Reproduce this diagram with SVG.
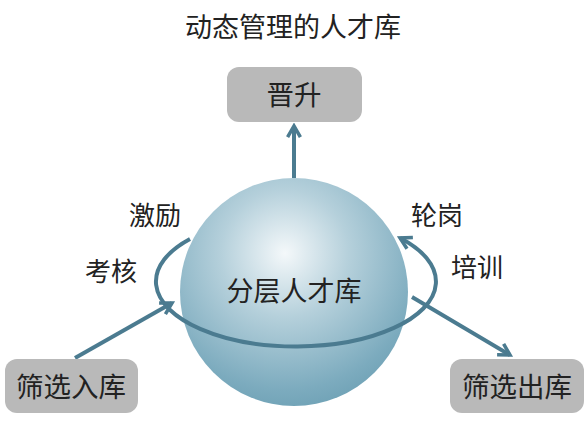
<svg xmlns="http://www.w3.org/2000/svg" width="587" height="424" viewBox="0 0 587 424">
<defs>
<radialGradient id="sph" cx="0.46" cy="0.33" r="0.8" fx="0.46" fy="0.33">
<stop offset="0" stop-color="#f4f8fa"/>
<stop offset="0.35" stop-color="#b5d0db"/>
<stop offset="0.75" stop-color="#7cabbe"/>
<stop offset="1" stop-color="#6298ad"/>
</radialGradient>
<marker id="ah" viewBox="0 0 10 10" refX="8" refY="5" markerWidth="4" markerHeight="4" orient="auto" markerUnits="strokeWidth">
<path d="M1,1 L8,5 L1,9" fill="none" stroke="#4b7b90" stroke-width="2.2" stroke-linecap="butt" stroke-linejoin="miter"/>
</marker>
<style>
.t{font-family:"Noto Sans CJK SC","Noto Sans",sans-serif;fill:#222;text-anchor:middle}
.box{fill:#b9b9b9}
.ln{fill:none;stroke:#4b7b90;stroke-width:4}
</style>
</defs>
<rect width="587" height="424" fill="#fff"/>
<text class="t" x="293" y="37" font-size="27">动态管理的人才库</text>
<g id="sphere">
<circle cx="294" cy="292" r="114" fill="url(#sph)"/>
<text class="t" x="294" y="301" font-size="27">分层人才库</text>
</g>
<g id="connectors">
<path class="ln" d="M190,239 A140,65 0 1 0 400,238" marker-end="url(#ah)"/>
<line class="ln" x1="294" y1="178" x2="294" y2="126" marker-end="url(#ah)"/>
<line class="ln" x1="75" y1="358" x2="172" y2="303" marker-end="url(#ah)"/>
<line class="ln" x1="412" y1="297" x2="510" y2="355" marker-end="url(#ah)"/>
</g>
<g id="promote">
<rect class="box" x="227" y="67" width="135" height="55" rx="12"/>
<text class="t" x="294" y="105" font-size="27.5">晋升</text>
</g>
<g id="in">
<rect class="box" x="5" y="359" width="133" height="54" rx="12"/>
<text class="t" x="71" y="397" font-size="27.5">筛选入库</text>
</g>
<g id="out">
<rect class="box" x="450" y="359" width="134" height="54" rx="12"/>
<text class="t" x="517" y="397" font-size="27.5">筛选出库</text>
</g>
<g id="labels">
<text class="t" x="155" y="225" font-size="26">激励</text>
<text class="t" x="111" y="281" font-size="26">考核</text>
<text class="t" x="437" y="225" font-size="26">轮岗</text>
<text class="t" x="477" y="277" font-size="26">培训</text>
</g>
</svg>
